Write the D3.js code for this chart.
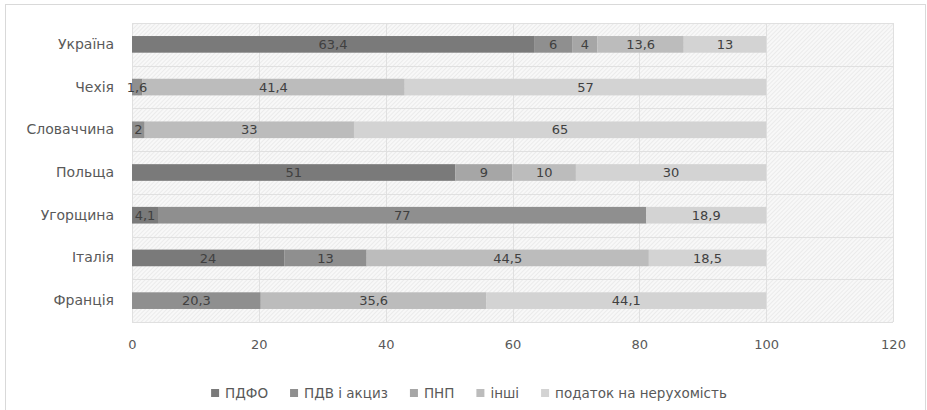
<!DOCTYPE html>
<html>
<head>
<meta charset="utf-8">
<script src="https://cdn.jsdelivr.net/npm/d3@7"></script>
<style>
  html, body { margin: 0; padding: 0; background: #ffffff; }
  svg { display: block; font-family: "DejaVu Sans", sans-serif; }
</style>
</head>
<body>
<svg id="chart" width="927" height="410"></svg>
<script>
// Tax structure by country, % of local budget revenue
const countries = ["Україна", "Чехія", "Словаччина", "Польща", "Угорщина", "Італія", "Франція"];
const seriesNames = ["ПДФО", "ПДВ і акциз", "ПНП", "інші", "податок на нерухомість"];
const pdfo     = [63.4, 0,    0,  51,  4.1, 24,   0];
const pdv      = [6,    1.6,  2,  0,   77,  13,   20.3];
const pnp      = [4,    0,    0,  9,   0,   0,    0];
const inshi    = [13.6, 41.4, 33, 10,  0,   44.5, 35.6];
const property = [13,   57,   65, 30,  18.9, 18.5, 44.1];
const xTicks = [0, 20, 40, 60, 80, 100, 120];

const colors = ["#7a7a7a", "#8f8f8f", "#a6a6a6", "#bcbcbc", "#d3d3d3"];

const rows = countries.map((c, i) => ({
  country: c,
  "ПДФО": pdfo[i],
  "ПДВ і акциз": pdv[i],
  "ПНП": pnp[i],
  "інші": inshi[i],
  "податок на нерухомість": property[i]
}));

const svg = d3.select("#chart");
const W = 927, H = 410;
const plot = { left: 132, right: 893, top: 23, bottom: 322 };

// chart frame
svg.append("rect")
  .attr("x", 5.5).attr("y", 4.5)
  .attr("width", W - 7).attr("height", H)
  .attr("fill", "#ffffff").attr("stroke", "#d9d9d9").attr("stroke-width", 1);

// diagonal hatch for the plot area
const defs = svg.append("defs");
const pat = defs.append("pattern")
  .attr("id", "hatch").attr("patternUnits", "userSpaceOnUse")
  .attr("width", 3).attr("height", 3)
  .attr("patternTransform", "rotate(-45)");
pat.append("rect").attr("width", 3).attr("height", 3).attr("fill", "#f8f8f8");
pat.append("line").attr("x1", 0).attr("y1", 0).attr("x2", 3).attr("y2", 0)
  .attr("stroke", "#e3e3e3").attr("stroke-width", 1.2);

const x = d3.scaleLinear().domain([0, 120]).range([plot.left, plot.right]);
const y = d3.scaleBand().domain(countries).range([plot.top, plot.bottom])
  .paddingInner(0.61).paddingOuter(0.305);

svg.append("rect")
  .attr("x", plot.left).attr("y", plot.top)
  .attr("width", plot.right - plot.left).attr("height", plot.bottom - plot.top)
  .attr("fill", "url(#hatch)");

// vertical gridlines
svg.append("g").selectAll("line").data(xTicks).join("line")
  .attr("x1", d => Math.round(x(d)) + 0.5).attr("x2", d => Math.round(x(d)) + 0.5)
  .attr("y1", plot.top).attr("y2", plot.bottom)
  .attr("stroke", "#e0e0e0").attr("stroke-width", 1);

// category boundary lines
const bounds = d3.range(countries.length + 1).map(i => plot.top + i * y.step());
svg.append("g").selectAll("line").data(bounds).join("line")
  .attr("x1", plot.left).attr("x2", plot.right)
  .attr("y1", d => Math.round(d) + 0.5).attr("y2", d => Math.round(d) + 0.5)
  .attr("stroke", "#e0e0e0").attr("stroke-width", 1);

// stacked bars
const stacked = d3.stack().keys(seriesNames)(rows);
const segments = stacked.flatMap((layer, i) =>
  layer.map(s => ({ key: layer.key, i, x0: s[0], x1: s[1],
                    value: s.data[layer.key], country: s.data.country }))
       .filter(s => s.value > 0));

svg.append("g").selectAll("rect").data(segments).join("rect")
  .attr("x", d => x(d.x0))
  .attr("y", d => y(d.country))
  .attr("width", d => x(d.x1) - x(d.x0))
  .attr("height", y.bandwidth())
  .attr("fill", d => colors[d.i]);

// value labels centred in each segment (drawn above all bars)
const fmt = v => String(v).replace(".", ",");
svg.append("g").selectAll("text").data(segments).join("text")
  .attr("x", d => (x(d.x0) + x(d.x1)) / 2)
  .attr("y", d => y(d.country) + y.bandwidth() / 2)
  .attr("dy", "0.36em")
  .attr("text-anchor", "middle")
  .attr("font-size", 13)
  .attr("fill", "#404040")
  .text(d => fmt(d.value));

// category axis labels
const yAxis = d3.axisLeft(y).tickSize(0).tickPadding(18);
svg.append("g").attr("transform", `translate(${plot.left},0)`).call(yAxis)
  .call(g => g.select(".domain").remove())
  .call(g => g.selectAll("text").attr("font-size", 14).attr("fill", "#595959")
    .attr("font-family", "DejaVu Sans, sans-serif"));

// value axis labels
const xAxis = d3.axisBottom(x).tickValues(xTicks).tickSize(0).tickPadding(18)
  .tickFormat(d3.format("d"));
svg.append("g").attr("transform", `translate(0,${plot.bottom})`).call(xAxis)
  .call(g => g.select(".domain").remove())
  .call(g => g.selectAll("text").attr("font-size", 13).attr("fill", "#595959")
    .attr("font-family", "DejaVu Sans, sans-serif"));

// legend
const legend = svg.append("g").attr("transform", "translate(0,393)");
const items = legend.selectAll("g").data(seriesNames).join("g");
items.append("rect").attr("width", 8).attr("height", 8).attr("y", -4)
  .attr("fill", (d, i) => colors[i]);
items.append("text").attr("x", 14).attr("dy", "0.36em")
  .attr("font-size", 13.5).attr("fill", "#595959").text(d => d);
let cx = 0;
const offsets = [];
items.each(function() {
  offsets.push(cx);
  cx += this.getBBox().width + 22;
});
const total = cx - 22;
const startX = 469 - total / 2;
items.attr("transform", (d, i) => `translate(${startX + offsets[i]},0)`);
</script>
</body>
</html>
